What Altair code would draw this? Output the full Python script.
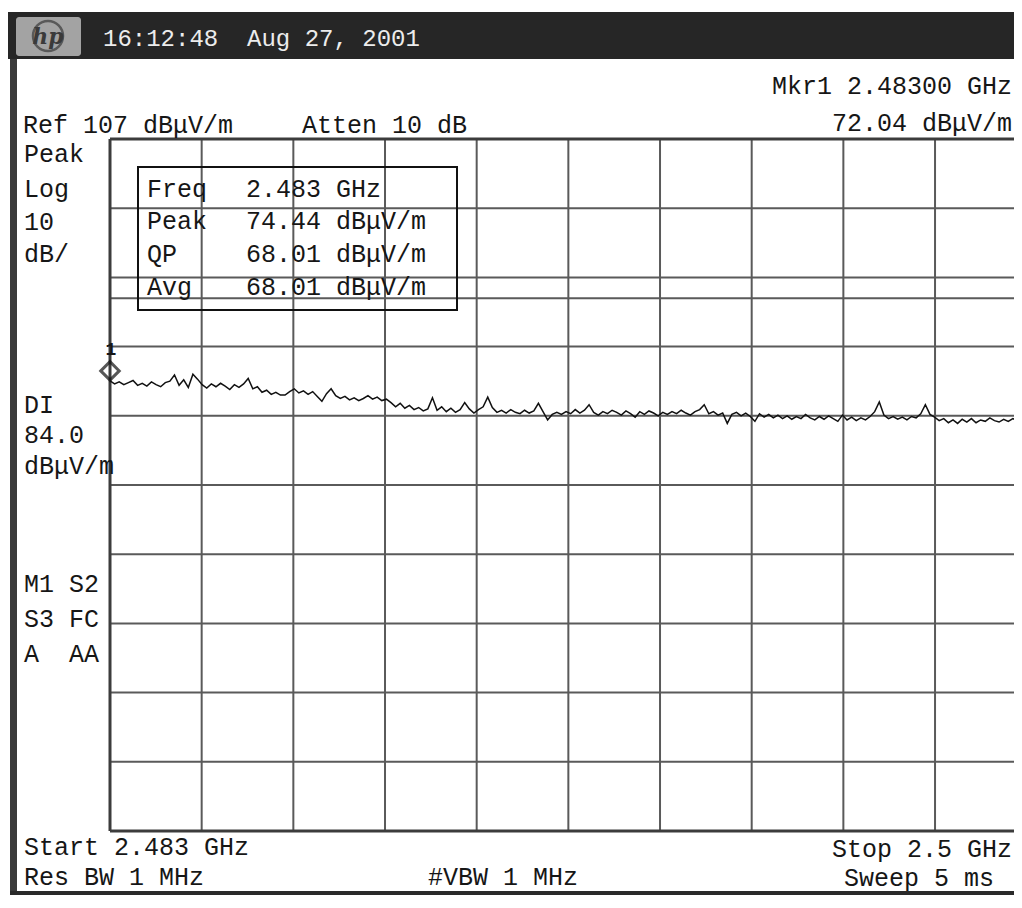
import altair as alt
import pandas as pd
import numpy as np

START_GHZ = 2.483
STOP_GHZ = 2.5
REF_LEVEL = 107.0
BOTTOM_LEVEL = 7.0

level_db = [
    72.04, 71.6, 71.9, 71.5, 71.8, 72.1, 71.4, 71.7, 71.3, 71.9,
    71.5, 71.2, 71.8, 72.0, 72.9, 71.4, 72.2, 71.1, 73.0, 72.3,
    71.5, 71.0, 71.6, 71.2, 71.7, 71.3, 70.8, 71.5, 71.1, 71.6,
    72.4, 70.9, 71.2, 70.4, 70.7, 70.1, 70.4, 70.0, 70.0, 70.5,
    70.9, 70.3, 70.6, 70.1, 70.5, 69.8, 69.1, 70.2, 70.9, 69.9,
    69.5, 69.8, 69.3, 69.6, 69.2, 69.5, 69.9, 69.4, 69.7, 69.2,
    69.4, 68.9, 68.3, 68.8, 68.1, 68.5, 67.9, 68.2, 67.7, 68.0,
    69.6, 67.8, 68.3, 67.6, 68.1, 67.5, 67.9, 68.9, 68.0, 67.4,
    67.9, 68.3, 69.7, 68.2, 67.5, 67.8, 67.4, 67.9, 67.5, 67.3,
    67.8, 67.4, 67.7, 68.8, 67.6, 66.4, 67.2, 67.5, 67.2, 67.6,
    67.3, 67.9, 67.4, 67.8, 68.6, 67.5, 67.1, 67.6, 67.3, 67.8,
    67.5, 67.1, 67.7, 67.3, 66.8, 67.6, 67.2, 67.7, 67.4, 67.0,
    67.5, 67.2, 67.6, 67.3, 67.8, 67.4, 67.1, 67.6, 67.9, 68.6,
    67.3, 67.6, 67.1, 67.4, 65.9, 67.2, 67.5, 67.0, 67.4, 66.9,
    66.2, 67.3, 66.8, 67.2, 66.7, 67.1, 66.6, 67.0, 66.5, 66.9,
    66.6, 67.2, 66.7, 66.4, 66.9, 66.5, 67.0, 66.6, 66.2, 67.1,
    66.4, 66.8, 66.3, 66.7, 66.4, 66.9, 67.6, 69.0, 67.1, 66.6,
    66.9, 66.5, 66.8, 66.4, 66.9, 66.7, 67.3, 68.6, 67.2, 66.8,
    66.3, 66.6, 66.0, 66.4, 65.9, 66.5, 66.1, 66.6, 66.0, 66.4,
    66.2, 66.7, 66.3, 66.1, 66.5, 66.2, 66.6, 66.3, 66.0, 66.4,
]
# the sweep points are evenly spaced between start and stop
freq_ghz = np.linspace(START_GHZ, STOP_GHZ, len(level_db))

grid_freqs = [2.4847, 2.4864, 2.4881, 2.4898, 2.4915, 2.4932, 2.4949, 2.4966, 2.4983]
grid_levels = [17, 27, 37, 47, 57, 67, 77, 87, 97]
display_line_db = [84.0]
marker_freq = [2.483]
marker_db = [72.04]

# ---------------- layout ----------------
OX, OY = 110, 139          # page position of plot origin
RIGHT, BOTTOM = 1014, 895  # last page pixel the chart uses (no overflow)
W, H = RIGHT - OX, 692     # visible plot area (right edge cut by screen)
FULL_W = 916.7             # width of the full 10 divisions
x_max = START_GHZ + (STOP_GHZ - START_GHZ) * W / FULL_W

xs = alt.Scale(domain=[START_GHZ, x_max], nice=False, zero=False)
ys = alt.Scale(domain=[BOTTOM_LEVEL, REF_LEVEL], nice=False, zero=False)

MONO = "Liberation Mono"
INK = "#161616"
GRID = "#5a5a5a"
NB = "\u00a0"  # keeps double spaces in SVG text

one = pd.DataFrame({"a": [0]})


def txt(s, px, py, size=25, color=INK, align="left", font=MONO, **kw):
    return alt.Chart(one).mark_text(
        text=s, align=align, baseline="alphabetic", font=font,
        fontSize=size, color=color, **kw
    ).encode(x=alt.value(px - OX), y=alt.value(py - OY))


def box(x1, y1, x2, y2, **kw):
    return alt.Chart(one).mark_rect(**kw).encode(
        x=alt.value(x1 - OX), x2=alt.value(x2 - OX),
        y=alt.value(y1 - OY), y2=alt.value(y2 - OY))


def vrule(px, py1, py2, **kw):
    return alt.Chart(one).mark_rule(**kw).encode(
        x=alt.value(px - OX), y=alt.value(py1 - OY), y2=alt.value(py2 - OY))


def hrule(py, px1, px2, **kw):
    return alt.Chart(one).mark_rule(**kw).encode(
        y=alt.value(py - OY), x=alt.value(px1 - OX), x2=alt.value(px2 - OX))


layers = []

# screen frame
layers.append(box(8, 12, RIGHT, 59, color="#262626"))
layers.append(vrule(13.5, 59, BOTTOM, color="#3a3a3a", strokeWidth=7))
layers.append(hrule(BOTTOM - 2, 10, RIGHT, color="#2a2a2a", strokeWidth=4))
# hp logo
layers.append(box(16, 17, 81, 56, color="#a3a3a3", cornerRadius=3))
layers.append(alt.Chart(one).mark_point(shape="circle", filled=False, size=900,
                                        stroke="#3a3a3a", strokeWidth=2.5)
              .encode(x=alt.value(48 - OX), y=alt.value(36 - OY)))
layers.append(txt("hp", 48, 44, size=22, color="#3a3a3a", align="center",
                  font="DejaVu Serif", fontStyle="italic", fontWeight="bold"))
layers.append(txt("16:12:48" + NB + NB + "Aug 27, 2001", 103, 46, size=24, color="#ececec"))

# grid
vgrid = pd.DataFrame({"f": grid_freqs})
hgrid = pd.DataFrame({"l": grid_levels})
layers.append(alt.Chart(vgrid).mark_rule(color=GRID, strokeWidth=2).encode(
    x=alt.X("f:Q", scale=xs, axis=None), y=alt.value(0), y2=alt.value(H)))
layers.append(alt.Chart(hgrid).mark_rule(color=GRID, strokeWidth=2).encode(
    y=alt.Y("l:Q", scale=ys, axis=None), x=alt.value(0), x2=alt.value(W)))
layers.append(alt.Chart(pd.DataFrame({"l": display_line_db})).mark_rule(
    color=GRID, strokeWidth=2).encode(
    y=alt.Y("l:Q", scale=ys, axis=None), x=alt.value(0), x2=alt.value(W)))
# graticule border
layers.append(vrule(OX, OY, OY + H, color="#3c3c3c", strokeWidth=3))
layers.append(hrule(OY, OX, OX + W, color="#3c3c3c", strokeWidth=3))
layers.append(hrule(OY + H, OX, OX + W, color="#3c3c3c", strokeWidth=3))

# trace
trace = pd.DataFrame({"f": freq_ghz, "db": level_db})
layers.append(alt.Chart(trace).mark_line(color="#111111", strokeWidth=1.5, clip=True).encode(
    x=alt.X("f:Q", scale=xs, axis=None),
    y=alt.Y("db:Q", scale=ys, axis=None)))

# marker
mk = pd.DataFrame({"f": marker_freq, "db": marker_db})
layers.append(alt.Chart(mk).mark_point(shape="diamond", filled=False, size=340,
                                       stroke="#111111", strokeWidth=3, yOffset=-10)
              .encode(x=alt.X("f:Q", scale=xs, axis=None),
                      y=alt.Y("db:Q", scale=ys, axis=None)))
layers.append(alt.Chart(mk).mark_text(text="1", font=MONO, fontSize=18, color=INK,
                                      fontWeight="bold", yOffset=-31, xOffset=1)
              .encode(x=alt.X("f:Q", scale=xs, axis=None),
                      y=alt.Y("db:Q", scale=ys, axis=None)))

# marker table
layers.append(box(138, 167, 457, 310, fillOpacity=0, stroke="#111111", strokeWidth=2))
rows = [("Freq", "2.483 GHz", 197), ("Peak", "74.44 dBμV/m", 229),
        ("QP", "68.01 dBμV/m", 262), ("Avg", "68.01 dBμV/m", 295)]
for name, val, yy in rows:
    layers.append(txt(name, 147, yy))
    layers.append(txt(val, 246, yy))

# annotations
layers += [
    txt("Ref 107 dBμV/m", 23, 133),
    txt("Atten 10 dB", 302, 133),
    txt("Mkr1 2.48300 GHz", 772, 94),
    txt("72.04 dBμV/m", 1012, 131, align="right"),
    txt("Peak", 24, 162), txt("Log", 24, 197), txt("10", 24, 230), txt("dB/", 24, 262),
    txt("DI", 24, 413), txt("84.0", 24, 443), txt("dBμV/m", 24, 474),
    txt("M1 S2", 24, 592), txt("S3 FC", 24, 627), txt("A" + NB + NB + "AA", 24, 662),
    txt("Start 2.483 GHz", 24, 855), txt("Res BW 1 MHz", 24, 885),
    txt("#VBW 1 MHz", 428, 885),
    txt("Stop 2.5 GHz", 1012, 857, align="right"),
    txt("Sweep 5 ms", 994, 886, align="right"),
]

chart = alt.layer(*layers).properties(
    width=W, height=H,
    autosize=alt.AutoSizeParams(type="none"),
    padding={"left": OX - 8, "top": OY - 8, "right": 0,
             "bottom": (BOTTOM - 8) - (OY - 8) - H},
    background="white",
).configure_view(strokeWidth=0, stroke="transparent")

chart.save("out.html", embed_options={"renderer": "svg", "actions": False})
